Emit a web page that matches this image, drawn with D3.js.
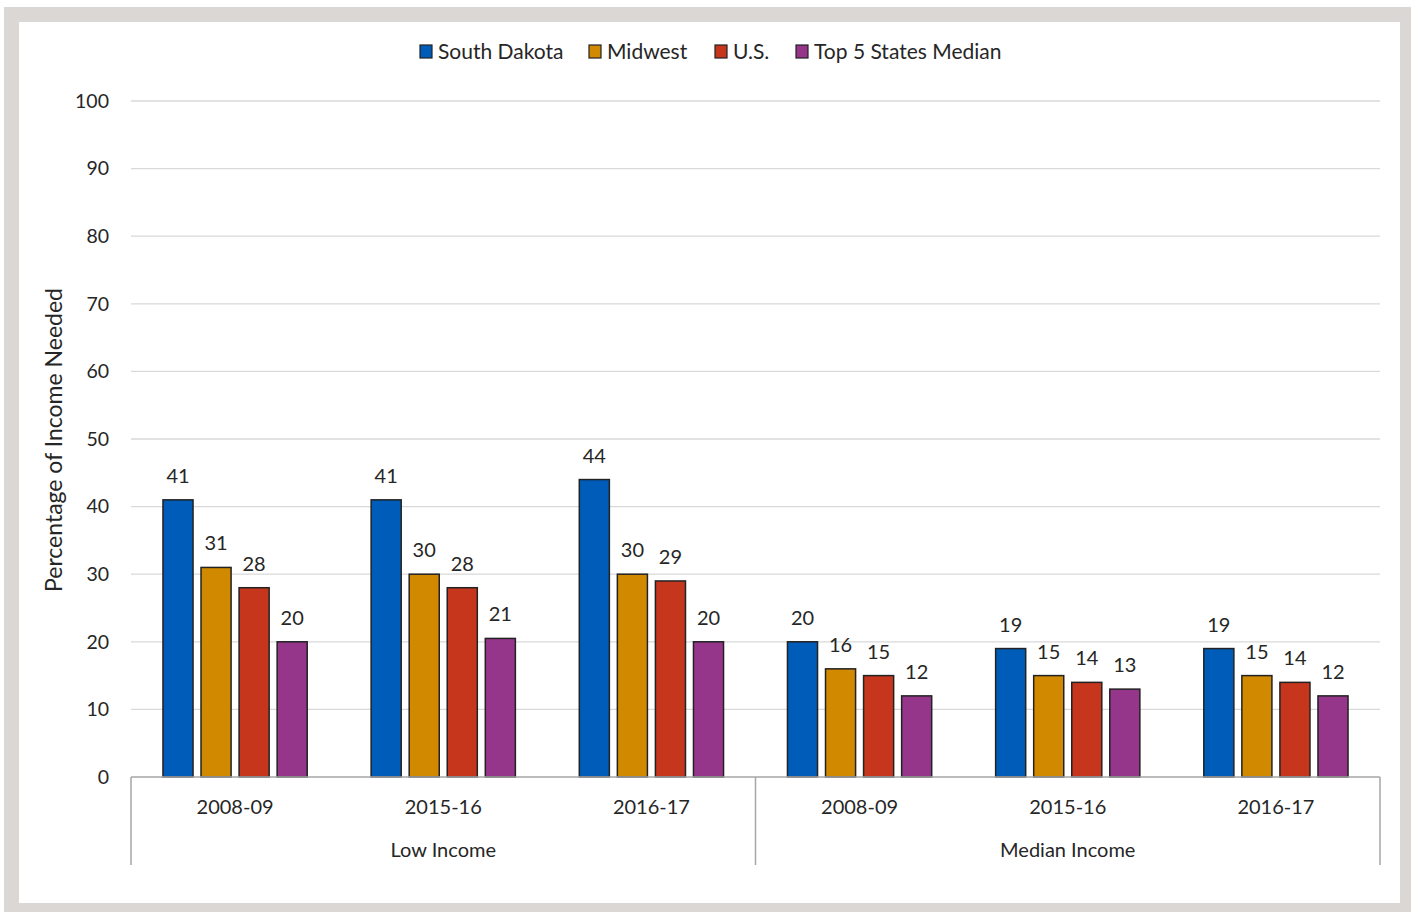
<!DOCTYPE html>
<html>
<head>
<meta charset="utf-8">
<script src="https://cdn.jsdelivr.net/npm/d3@7"></script>
<style>
  body { margin: 0; background: #fff; }
  text { font-family: Lato, "Open Sans", sans-serif; fill: #262626; }
</style>
</head>
<body>
<div id="chart"></div>
<script>
// data
var groups = ["Low Income", "Median Income"];
var years = ["2008-09", "2015-16", "2016-17"];
var series = ["South Dakota", "Midwest", "U.S.", "Top 5 States Median"];
var colors = ["#005cb9", "#d18a00", "#c5361d", "#95368b"];
var southDakota = [41, 41, 44, 20, 19, 19];
var midwest = [31, 30, 30, 16, 15, 15];
var us = [28, 28, 29, 15, 14, 14];
var top5 = [20, 20.5, 20, 12, 13, 12];
var yTicks = [0, 10, 20, 30, 40, 50, 60, 70, 80, 90, 100];

var W = 1411, H = 912;
var margin = {top: 101, left: 131, right: 31, bottom: 135};
var width = W - margin.left - margin.right,
    height = H - margin.top - margin.bottom;

var svg = d3.select("#chart").append("svg")
  .attr("width", W).attr("height", H);

// frame
svg.append("rect").attr("x", 4).attr("y", 7).attr("width", W - 4).attr("height", H - 7)
  .style("fill", "#dad7d4");
svg.append("rect").attr("x", 19).attr("y", 22).attr("width", 1381).attr("height", 881)
  .style("fill", "#fff");

var g = svg.append("g")
  .attr("transform", "translate(" + margin.left + "," + margin.top + ")");

// build rows: one per group/year
var cats = [];
groups.forEach(function(gr, gi) {
  years.forEach(function(yr, yi) {
    var i = gi * years.length + yi;
    cats.push({key: gr + "|" + yr, group: gr, year: yr,
      values: [southDakota[i], midwest[i], us[i], top5[i]]});
  });
});

var x0 = d3.scaleBand().domain(cats.map(function(d) { return d.key; }))
  .range([0, width]);
var x1 = d3.scaleBand().domain(series)
  .range([0, x0.bandwidth()])
  .paddingInner(0.21).paddingOuter(0.84);
var y = d3.scaleLinear().domain([0, 100]).range([height, 0]);

// grid
g.append("g").selectAll("line").data(yTicks.slice(1)).enter().append("line")
  .attr("x1", 0).attr("x2", width)
  .attr("y1", function(d) { return y(d); }).attr("y2", function(d) { return y(d); })
  .style("stroke", "#d9d9d9").style("stroke-width", 1.3);

// y axis labels
var yAxis = g.append("g")
  .call(d3.axisLeft(y).tickValues(yTicks).tickSize(0).tickPadding(22));
yAxis.select(".domain").remove();
yAxis.selectAll("text").style("font-size", "19.5px").style("fill", "#262626")
  .style("font-family", "Lato, 'Open Sans', sans-serif");

// bars
var cg = g.selectAll(".cat").data(cats).enter().append("g")
  .attr("transform", function(d) { return "translate(" + x0(d.key) + ",0)"; });

cg.selectAll("rect").data(function(d) {
    return d.values.map(function(v, i) { return {s: series[i], v: v, c: colors[i]}; });
  }).enter().append("rect")
  .attr("x", function(d) { return x1(d.s); })
  .attr("width", x1.bandwidth())
  .attr("y", function(d) { return y(d.v); })
  .attr("height", function(d) { return height - y(d.v); })
  .style("fill", function(d) { return d.c; })
  .style("stroke", "#222").style("stroke-width", 1.5);

cg.selectAll("text.lbl").data(function(d) {
    return d.values.map(function(v, i) { return {s: series[i], v: v}; });
  }).enter().append("text")
  .attr("class", "lbl")
  .attr("x", function(d) { return x1(d.s) + x1.bandwidth() / 2; })
  .attr("y", function(d) { return y(d.v) - 17; })
  .attr("text-anchor", "middle")
  .style("font-size", "20px")
  .text(function(d) { return Math.round(d.v); });

// x axis line and multi-level labels
g.append("line").attr("x1", 0).attr("x2", width).attr("y1", height).attr("y2", height)
  .style("stroke", "#a6a6a6").style("stroke-width", 1.5);

[0, 3, 6].forEach(function(i) {
  var xx = i < 6 ? x0(cats[i].key) : width;
  g.append("line").attr("x1", xx).attr("x2", xx).attr("y1", height).attr("y2", height + 88)
    .style("stroke", "#a6a6a6").style("stroke-width", 1.5);
});

g.selectAll("text.year").data(cats).enter().append("text")
  .attr("class", "year")
  .attr("x", function(d) { return x0(d.key) + x0.bandwidth() / 2; })
  .attr("y", height + 37)
  .attr("text-anchor", "middle")
  .style("font-size", "20px")
  .text(function(d) { return d.year; });

g.selectAll("text.grp").data(groups).enter().append("text")
  .attr("class", "grp")
  .attr("x", function(d, i) { return x0(cats[i * 3 + 1].key) + x0.bandwidth() / 2; })
  .attr("y", height + 80)
  .attr("text-anchor", "middle")
  .style("font-size", "20px")
  .text(function(d) { return d; });

// y title
svg.append("text")
  .attr("transform", "translate(62,440) rotate(-90)")
  .attr("text-anchor", "middle")
  .style("font-size", "23px")
  .text("Percentage of Income Needed");

// legend
var legendX = [420, 589, 715, 796];
var lg = svg.append("g").selectAll("g").data(series).enter().append("g")
  .attr("transform", function(d, i) { return "translate(" + legendX[i] + ",45)"; });
lg.append("rect").attr("width", 12).attr("height", 13)
  .style("fill", function(d, i) { return colors[i]; })
  .style("stroke", "#222").style("stroke-width", 1.2);
lg.append("text").attr("x", 18).attr("y", 14)
  .style("font-size", "21px")
  .text(function(d) { return d; });
</script>
</body>
</html>
